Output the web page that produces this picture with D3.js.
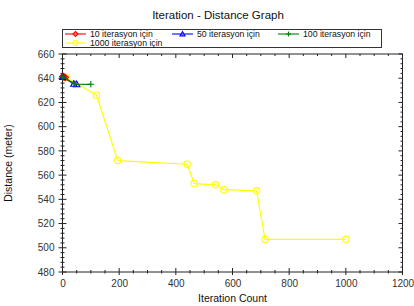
<!DOCTYPE html>
<html>
<head>
<meta charset="utf-8">
<script src="https://cdn.jsdelivr.net/npm/d3@7"></script>
<style>
	body { margin: 0; background: #fff; }
	svg { font-family: 'Liberation Sans', Arial, sans-serif; }
</style>
</head>
<body>
<div id="chart"></div>
<script>
const seriesNames = ['10 iterasyon için', '50 iterasyon için', '100 iterasyon için', '1000 iterasyon için'];
const seriesColors = ['#ff0000', '#0000ff', '#008000', '#ffff00'];
const seriesMarkers = ['diamond', 'triangle', 'plus', 'circle'];

const iter10 = [[1, 641.5], [5, 641], [10, 640.6]];
const iter50 = [[1, 641], [40, 635.3], [50, 635]];
const iter100 = [[1, 641], [45, 635.2], [100, 635]];
const iter1000 = [[10, 641], [120, 626], [195, 572], [440, 569], [465, 553], [540, 552], [570, 548], [685, 547], [715, 507], [1000, 507]];

const xTicks = [0, 200, 400, 600, 800, 1000, 1200];
const yTicks = [480, 500, 520, 540, 560, 580, 600, 620, 640, 660];

const width = 414;
const height = 306;
const margins = { left: 62.5, right: 11.5, top: 54, bottom: 34 };

const svg = d3.select('#chart').append('svg')
	.attr('width', width)
	.attr('height', height);

const x = d3.scaleLinear()
	.domain([0, 1200])
	.range([margins.left, width - margins.right]);

const y = d3.scaleLinear()
	.domain([480, 660])
	.range([height - margins.bottom, margins.top]);

// title
svg.append('text')
	.attr('x', 218)
	.attr('y', 18.5)
	.attr('text-anchor', 'middle')
	.attr('font-size', 11.5)
	.attr('fill', '#111')
	.text('Iteration - Distance Graph');

// frame
svg.append('rect')
	.attr('x', x(0))
	.attr('y', y(660))
	.attr('width', x(1200) - x(0))
	.attr('height', y(480) - y(660))
	.attr('fill', 'none')
	.attr('stroke', '#222')
	.attr('stroke-width', 1);

const xMinor = d3.range(0, 1201, 50);
const yMinor = d3.range(480, 661, 4);

const ticks = svg.append('g')
	.attr('stroke', '#222')
	.attr('stroke-width', 1);

// bottom and top ticks
xMinor.forEach(v => {
	const major = v % 200 === 0;
	const len = major ? 4 : 2;
	ticks.append('line')
		.attr('x1', x(v)).attr('x2', x(v))
		.attr('y1', y(480) - len).attr('y2', y(480) + (major ? 3 : 1.5));
	ticks.append('line')
		.attr('x1', x(v)).attr('x2', x(v))
		.attr('y1', y(660)).attr('y2', y(660) + len);
});

// left and right ticks
yMinor.forEach(v => {
	const major = v % 20 === 0;
	const len = major ? 4 : 2;
	ticks.append('line')
		.attr('x1', x(0) - (major ? 4 : 2)).attr('x2', x(0) + len)
		.attr('y1', y(v)).attr('y2', y(v));
	ticks.append('line')
		.attr('x1', x(1200) - len).attr('x2', x(1200))
		.attr('y1', y(v)).attr('y2', y(v));
});

const xAxis = d3.axisBottom(x).tickValues(xTicks).tickFormat(d3.format('d')).tickSize(0).tickPadding(8);
const yAxis = d3.axisLeft(y).tickValues(yTicks).tickFormat(d3.format('d')).tickSize(0).tickPadding(8);

const gx = svg.append('g')
	.attr('transform', `translate(0,${y(480)})`)
	.call(xAxis);
const gy = svg.append('g')
	.attr('transform', `translate(${x(0)},0)`)
	.call(yAxis);

[gx, gy].forEach(g => {
	g.select('.domain').remove();
	g.selectAll('text')
		.attr('font-size', 10)
		.attr('fill', '#333')
		.attr('font-family', "'Liberation Sans', Arial, sans-serif");
});

svg.append('text')
	.attr('x', x(600))
	.attr('y', 302)
	.attr('text-anchor', 'middle')
	.attr('font-size', 10.5)
	.attr('fill', '#111')
	.text('Iteration Count');

svg.append('text')
	.attr('transform', `translate(12,${y(570)}) rotate(-90)`)
	.attr('text-anchor', 'middle')
	.attr('font-size', 10.5)
	.attr('fill', '#111')
	.text('Distance (meter)');

function drawMarker(g, kind, cx, cy, color, s) {
	if (kind === 'circle') {
		g.append('circle').attr('cx', cx).attr('cy', cy).attr('r', s)
			.attr('fill', 'none').attr('stroke', color).attr('stroke-width', 1.1);
	} else if (kind === 'triangle') {
		g.append('path')
			.attr('d', `M${cx},${cy - s}L${cx + s},${cy + s * 0.75}L${cx - s},${cy + s * 0.75}Z`)
			.attr('fill', 'none').attr('stroke', color).attr('stroke-width', 1.1);
	} else if (kind === 'diamond') {
		g.append('path')
			.attr('d', `M${cx},${cy - s}L${cx + s},${cy}L${cx},${cy + s}L${cx - s},${cy}Z`)
			.attr('fill', 'none').attr('stroke', color).attr('stroke-width', 1.1);
	} else {
		g.append('path')
			.attr('d', `M${cx - s},${cy}H${cx + s}M${cx},${cy - s}V${cy + s}`)
			.attr('fill', 'none').attr('stroke', color).attr('stroke-width', 1.1);
	}
}

const line = d3.line()
	.x(d => x(d[0]))
	.y(d => y(d[1]));

const allSeries = [iter10, iter50, iter100, iter1000];
const drawOrder = [3, 0, 1, 2];

drawOrder.forEach(i => {
	const g = svg.append('g');
	g.append('path')
		.datum(allSeries[i])
		.attr('d', line)
		.attr('fill', 'none')
		.attr('stroke', seriesColors[i])
		.attr('stroke-width', 1.2);
	allSeries[i].forEach(d => drawMarker(g, seriesMarkers[i], x(d[0]), y(d[1]), seriesColors[i], 3.2));
});

// legend
const legend = svg.append('g');
legend.append('rect')
	.attr('x', 62.5)
	.attr('y', 29.5)
	.attr('width', 319)
	.attr('height', 18)
	.attr('fill', '#fff')
	.attr('stroke', '#333')
	.attr('stroke-width', 1);

const legendPos = [[65, 34], [172, 34], [278, 34], [65, 43]];
seriesNames.forEach((name, i) => {
	const [lx, ly] = legendPos[i];
	const lg = legend.append('g');
	lg.append('line')
		.attr('x1', lx).attr('x2', lx + 21)
		.attr('y1', ly).attr('y2', ly)
		.attr('stroke', seriesColors[i]).attr('stroke-width', 1.1);
	drawMarker(lg, seriesMarkers[i], lx + 10.5, ly, seriesColors[i], 2.5);
	lg.append('text')
		.attr('x', lx + 25)
		.attr('y', ly + 3)
		.attr('font-size', 8.7)
		.attr('fill', '#111')
		.text(name);
});
</script>
</body>
</html>
